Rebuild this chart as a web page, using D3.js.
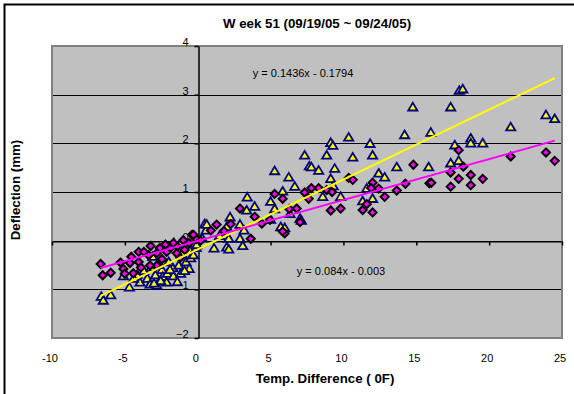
<!DOCTYPE html>
<html>
<head>
<meta charset="utf-8">
<script src="https://cdn.jsdelivr.net/npm/d3@7"></script>
<style>
  html, body { margin: 0; padding: 0; background: #fff; }
  svg { display: block; font-family: Arial, "Liberation Sans", sans-serif; }
</style>
</head>
<body>
<svg id="chart" width="574" height="394"></svg>
<script>
// Chart text
const chartTitle = "W eek 51 (09/19/05 ~ 09/24/05)";
const xTitle = "Temp. Difference ( 0F)";
const yTitle = "Deflection (mm)";

// Axis ticks
const xTicks = [-10, -5, 0, 5, 10, 15, 20, 25];
const yTicks = [-2, -1, 0, 1, 2, 3, 4];

// Trend line coefficients [slope, intercept]
const trendTriangle = [0.1436, -0.1794];
const trendDiamond = [0.084, -0.003];
const labelTriangle = "y = 0.1436x - 0.1794";
const labelDiamond = "y = 0.084x - 0.003";

// Series 1: triangles [temp difference, deflection]
const triangleSeries = [
  [-6.62,-1.15],[-6.48,-1.23],[-5.97,-1.12],[-5.1,-0.73],[-4.69,-0.96],[-4.15,-0.70],
  [-3.96,-0.86],[-3.46,-0.78],[-3.27,-0.90],[-2.81,-0.92],[-2.91,-0.71],[-2.45,-0.60],
  [-2.4,-0.74],[-2.09,-0.68],[-1.72,-0.56],[-1.67,-0.73],[-1.3,-0.51],[-1.17,-0.68],
  [-0.8,-0.44],[-0.58,-0.58],[-0.48,-0.36],[-2.45,-0.42],[-3.09,-0.33],[-1.99,-0.44],
  [-1.63,-0.05],[-1.08,-0.27],[-0.53,-0.21],[-0.21,-0.05],[-2.13,-0.86],[-2.54,-0.83],
  [-1.4,-0.85],[-3.0,-0.88],[-3.7,-0.62],[-4.4,-0.78],[-3.2,-0.55],[-2.7,-0.5],
  [-1.9,-0.6],[-0.9,-0.62],[-0.3,-0.3],[-0.1,-0.15],
  [0.48,0.34],[0.57,0.21],[0.62,0.33],[2.22,0.48],[1.99,0.28],[2.9,0.33],[3.18,0.21],
  [2.13,0.04],[2.9,0.04],[3.09,-0.11],[-0.07,-0.09],[1.12,-0.16],[1.99,-0.14],[2.13,-0.18],
  [3.4,0.89],[3.91,0.70],[3.36,0.62],[5.0,0.80],[5.28,0.65],[6.33,0.55],[5.0,0.43],
  [7.02,0.45],[5.7,0.28],[5.97,0.26],[5.28,1.43],[6.25,1.30],[6.66,1.11],[5.83,1.01],
  [0.3,0.05],[1.5,0.1],
  [7.34,1.75],[7.66,1.53],[7.8,1.51],[8.3,1.44],[9.4,1.48],[9.13,2.01],[9.27,1.95],
  [10.36,2.12],[11.83,1.99],[8.85,1.75],[10.64,1.71],[12.0,1.75],[14.76,2.74],[14.2,2.17],
  [16.0,2.22],[13.66,1.51],[15.85,1.51],[12.42,1.38],[12.83,1.30],[9.13,1.27],[9.3,1.12],
  [11.6,1.07],[8.58,0.90],[9.81,0.90],[11.32,0.81],[12.0,0.86],[7.11,0.41],
  [17.95,3.08],[18.19,3.11],[17.36,2.74],[23.9,2.58],[24.5,2.50],[21.48,2.33],
  [17.64,1.96],[18.74,2.10],[18.74,2.0],[19.56,2.0],[17.36,1.59],[17.91,1.64]
];

// Series 2: diamonds [temp difference, deflection]
const diamondSeries = [
  [-6.66,-0.48],[-6.52,-0.71],[-5.97,-0.66],[-5.1,-0.58],[-4.56,-0.33],[-4.05,-0.23],
  [-3.69,-0.23],[-3.23,-0.11],[-2.81,-0.26],[-2.22,-0.08],[-1.9,-0.16],[-1.4,-0.12],
  [-0.99,0.01],[-0.39,0.12],[-0.07,0.03],[-4.65,-0.46],[-4.05,-0.44],[-3.36,-0.30],
  [-2.81,-0.51],[-2.45,-0.38],[-1.44,-0.26],[-0.89,-0.19],[-5.01,-0.68],[-4.42,-0.67],
  [-3.27,-0.51],[-2.13,-0.23],[-1.67,-0.05],[-5.3,-0.45],[-3.9,-0.55],[-2.6,-0.15],
  [-1.2,-0.35],[-0.6,-0.05],
  [-0.3,0.12],[0.9,0.21],[1.3,0.33],[2.26,0.34],[3.64,0.04],[2.9,0.66],[3.91,0.49],
  [4.96,0.43],[5.28,0.96],[5.83,0.86],[6.29,0.65],[6.79,0.66],[5.97,0.15],[7.02,0.38],
  [5.83,0.19],[0.2,0.0],[1.8,0.2],[4.4,0.35],
  [7.34,0.99],[7.8,1.08],[8.3,1.08],[7.62,0.86],[8.85,1.04],[9.22,1.0],[10.36,1.29],
  [10.64,1.25],[12.0,1.19],[11.9,1.08],[12.42,1.07],[12.83,0.90],[9.13,0.62],[9.81,0.66],
  [11.32,0.63],[12.0,0.58],[11.6,0.75],[14.8,1.56],[15.9,1.18],[14.25,1.17],[13.66,1.03],
  [17.91,1.86],[18.23,1.52],[17.36,1.40],[17.91,1.27],[18.74,1.35],[19.56,1.27],
  [17.36,1.11],[18.74,1.14],[21.48,1.73],[23.9,1.81],[24.5,1.64],[16.03,1.19]
];

const svg = d3.select("#chart");
const plot = { left: 52, right: 562, top: 46, bottom: 338 };

const x = d3.scaleLinear().domain([-10, 25]).range([plot.left, plot.right]);
const y = d3.scaleLinear().domain([-2, 4]).range([plot.bottom, plot.top]);

// Outer chart frame
svg.append("rect")
  .attr("x", 4.5).attr("y", 4.5)
  .attr("width", 600).attr("height", 420)
  .attr("fill", "#fff").attr("stroke", "#000").attr("stroke-width", 2);

// Plot area background
svg.append("rect")
  .attr("x", plot.left).attr("y", plot.top)
  .attr("width", plot.right - plot.left).attr("height", plot.bottom - plot.top)
  .attr("fill", "#c0c0c0");

// Horizontal gridlines
svg.append("g")
  .selectAll("line")
  .data(yTicks.filter(t => t > -2 && t < 4))
  .join("line")
  .attr("x1", plot.left).attr("x2", plot.right)
  .attr("y1", d => Math.round(y(d)) + 0.5).attr("y2", d => Math.round(y(d)) + 0.5)
  .attr("stroke", "#000").attr("stroke-width", 1.2);

// Plot area border
svg.append("rect")
  .attr("x", plot.left).attr("y", plot.top)
  .attr("width", plot.right - plot.left).attr("height", plot.bottom - plot.top)
  .attr("fill", "none").attr("stroke", "#808080").attr("stroke-width", 2);

// X axis running along y = 0, ticks pointing down, labels placed below the plot
const xAxis = svg.append("g")
  .attr("transform", `translate(0,${Math.round(y(0)) + 0.5})`)
  .call(d3.axisBottom(x).tickValues(xTicks).tickSize(4).tickSizeOuter(0).tickFormat(""));
xAxis.select(".domain").attr("stroke", "#000").attr("stroke-width", 1.2);
xAxis.selectAll(".tick line").attr("stroke", "#000").attr("stroke-width", 1.5);

svg.append("g")
  .selectAll("text")
  .data(xTicks)
  .join("text")
  .attr("x", d => x(d) - 2)
  .attr("y", 362)
  .attr("text-anchor", "middle")
  .attr("font-size", 11)
  .attr("fill", "#000")
  .text(d => d);

// Y axis running along x = 0 (labels sit beneath the markers)
const yAxis = svg.append("g")
  .attr("transform", `translate(${Math.round(x(0)) + 0.5},0)`)
  .call(d3.axisLeft(y).tickValues(yTicks).tickSize(4).tickSizeOuter(0).tickPadding(6)
    .tickFormat(d3.format("d")));
yAxis.select(".domain").attr("stroke", "#000").attr("stroke-width", 1.5);
yAxis.selectAll(".tick line").attr("stroke", "#000").attr("stroke-width", 1.5);
yAxis.selectAll(".tick text")
  .attr("font-size", 11)
  .attr("font-family", "Arial, 'Liberation Sans', sans-serif")
  .attr("fill", "#000")
  .attr("dy", "-0.05em");

// Markers: triangles first, diamonds over them
const triPath = "M0,-4.5L4.6,3.2L-4.6,3.2Z";
const diaPath = "M0,-4L4,0L0,4L-4,0Z";

svg.append("g")
  .selectAll("path")
  .data(triangleSeries)
  .join("path")
  .attr("transform", d => `translate(${x(d[0])},${y(d[1])})`)
  .attr("d", triPath)
  .attr("fill", "#ffff00")
  .attr("stroke", "#000080")
  .attr("stroke-width", 1.8)
  .attr("stroke-linejoin", "miter");

svg.append("g")
  .selectAll("path")
  .data(diamondSeries)
  .join("path")
  .attr("transform", d => `translate(${x(d[0])},${y(d[1])})`)
  .attr("d", diaPath)
  .attr("fill", "#ff00ff")
  .attr("stroke", "#000")
  .attr("stroke-width", 2);

// Linear trend lines across the full data range
const xExtent = d3.extent(triangleSeries.concat(diamondSeries), d => d[0]);
function trend(coef, color) {
  const pts = xExtent.map(v => [v, coef[0] * v + coef[1]]);
  svg.append("path")
    .attr("d", d3.line().x(d => x(d[0])).y(d => y(d[1]))(pts))
    .attr("stroke", color)
    .attr("stroke-width", 2)
    .attr("fill", "none");
}
trend(trendTriangle, "#ffff00");
trend(trendDiamond, "#ff00ff");

// Trend equations
svg.append("text")
  .attr("x", 303).attr("y", 77)
  .attr("text-anchor", "middle").attr("font-size", 11).attr("fill", "#000")
  .text(labelTriangle);
svg.append("text")
  .attr("x", 341).attr("y", 275)
  .attr("text-anchor", "middle").attr("font-size", 11).attr("fill", "#000")
  .text(labelDiamond);

// Titles
svg.append("text")
  .attr("x", 317).attr("y", 28)
  .attr("text-anchor", "middle").attr("font-size", 13.3).attr("font-weight", "bold")
  .text(chartTitle);
svg.append("text")
  .attr("x", 325).attr("y", 383)
  .attr("text-anchor", "middle").attr("font-size", 13.3).attr("font-weight", "bold")
  .text(xTitle);
svg.append("text")
  .attr("transform", "translate(20,190) rotate(-90)")
  .attr("text-anchor", "middle").attr("font-size", 13.3).attr("font-weight", "bold")
  .text(yTitle);
</script>
</body>
</html>
